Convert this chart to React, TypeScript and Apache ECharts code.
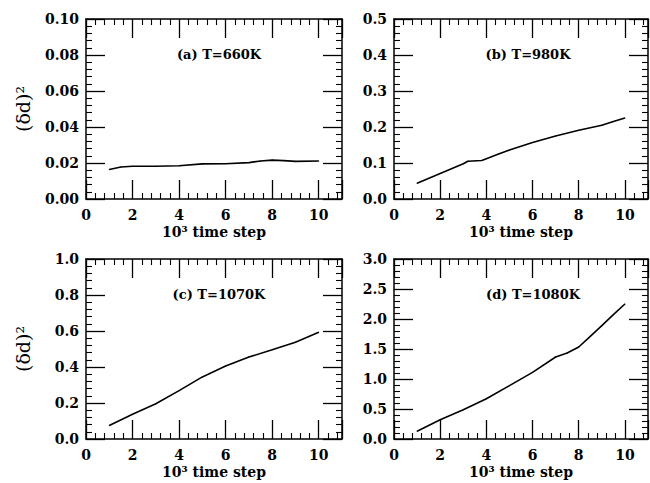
import React, { useEffect, useRef } from "react";
import * as echarts from "echarts";

const xA = [1, 1.5, 2, 3, 4, 5, 6, 7, 7.5, 8, 8.5, 9, 10];
const yA = [0.0164, 0.0178, 0.0182, 0.0182, 0.0185, 0.0195, 0.0196, 0.0202, 0.0211, 0.0216, 0.0213, 0.0209, 0.0211];

const xB = [1, 2, 3, 3.2, 3.8, 4, 4.5, 5, 6, 7, 8, 9, 9.5, 10];
const yB = [0.0436, 0.071, 0.098, 0.105, 0.107, 0.112, 0.124, 0.136, 0.157, 0.175, 0.191, 0.205, 0.215, 0.225];

const xC = [1, 2, 3, 4, 5, 6, 7, 8, 9, 10];
const yC = [0.0745, 0.138, 0.196, 0.269, 0.345, 0.405, 0.455, 0.496, 0.538, 0.593];

const xD = [1, 2, 3, 4, 5, 6, 7, 7.5, 8, 8.5, 9, 9.5, 10];
const yD = [0.128, 0.322, 0.489, 0.672, 0.889, 1.111, 1.367, 1.433, 1.533, 1.711, 1.889, 2.072, 2.25];

const panelTitles = ["(a) T=660K", "(b) T=980K", "(c) T=1070K", "(d) T=1080K"];
const yMax = [0.1, 0.5, 1.0, 3.0];
const yInterval = [0.02, 0.1, 0.2, 0.5];
const yDecimals = [2, 1, 1, 1];
const xMax = 11;
const xMajor = 2;
const xAxisName = "10³ time step";
const yAxisName = "(δd)²";

const FONT = "DejaVu Serif";

export default function App() {
  const ref = useRef<HTMLDivElement>(null);
  useEffect(() => {
    if (!ref.current) return;
    const chart = echarts.init(ref.current, null, { renderer: "svg" });

    const grids = [
      { left: 86, top: 19, width: 256, height: 180 },
      { left: 394, top: 19, width: 254, height: 180 },
      { left: 86, top: 259, width: 256, height: 180 },
      { left: 394, top: 259, width: 254, height: 180 },
    ];
    const xs = [xA, xB, xC, xD];
    const ys = [yA, yB, yC, yD];
    const titlePos = [
      { left: 219, top: 48 },
      { left: 528, top: 48 },
      { left: 219, top: 288 },
      { left: 533, top: 288 },
    ];

    const black = "#000";
    const xAxes: any[] = [];
    const yAxes: any[] = [];
    const series: any[] = [];

    const lineCfg = () => ({ show: true, onZero: false, lineStyle: { color: black, width: 1.5 } });
    const tickCfg = () => ({ show: true, inside: true, length: 19, lineStyle: { color: black, width: 1.3 } });
    const minorCfg = () => ({ show: true, splitNumber: 5, length: 6, lineStyle: { color: black, width: 1.1 } });

    grids.forEach((g, i) => {
      const baseX = xAxes.length;
      const common = () => ({
        gridIndex: i,
        type: "value",
        min: 0,
        max: xMax,
        interval: xMajor,
        splitLine: { show: false },
        axisLine: lineCfg(),
        axisTick: tickCfg(),
        minorTick: minorCfg(),
        minorSplitLine: { show: false },
      });
      xAxes.push({
        ...common(),
        position: "bottom",
        axisLabel: {
          show: true,
          showMaxLabel: false,
          margin: 9,
          color: black,
          fontFamily: FONT,
          fontWeight: "bold",
          fontSize: 14,
        },
        name: xAxisName,
        nameLocation: "middle",
        nameGap: 26,
        nameTextStyle: { color: black, fontFamily: FONT, fontWeight: "bold", fontSize: 14 },
      });
      xAxes.push({
        ...common(),
        position: "top",
        axisLabel: { show: false },
      });

      const baseY = yAxes.length;
      const yCommon = () => ({
        gridIndex: i,
        type: "value",
        min: 0,
        max: yMax[i],
        interval: yInterval[i],
        splitLine: { show: false },
        axisLine: lineCfg(),
        axisTick: tickCfg(),
        minorTick: minorCfg(),
        minorSplitLine: { show: false },
      });
      const dec = yDecimals[i];
      yAxes.push({
        ...yCommon(),
        position: "left",
        axisLabel: {
          show: true,
          margin: 7,
          color: black,
          fontFamily: FONT,
          fontWeight: "bold",
          fontSize: 14,
          formatter: (v: number) => v.toFixed(dec),
        },
        ...(i % 2 === 0
          ? {
              name: yAxisName,
              nameLocation: "middle",
              nameGap: 54,
              nameTextStyle: { color: black, fontFamily: FONT, fontSize: 19 },
            }
          : {}),
      });
      yAxes.push({
        ...yCommon(),
        position: "right",
        axisLabel: { show: false },
      });

      series.push({
        type: "line",
        xAxisIndex: baseX,
        yAxisIndex: baseY,
        data: xs[i].map((x, k) => [x, ys[i][k]]),
        showSymbol: true,
        symbol: "circle",
        symbolSize: 1,
        itemStyle: { color: black, borderWidth: 0 },
        lineStyle: { color: black, width: 1.6 },
      });
    });

    const title = panelTitles.map((t, i) => ({
      text: t,
      left: titlePos[i].left,
      top: titlePos[i].top,
      textAlign: "center",
      padding: 0,
      textStyle: { color: black, fontFamily: FONT, fontWeight: "bold", fontSize: 13 },
    }));

    chart.setOption({
      animation: false,
      title,
      grid: grids,
      xAxis: xAxes,
      yAxis: yAxes,
      series,
    });
    return () => chart.dispose();
  }, []);
  return (
    <div
      ref={ref}
      style={{ position: "absolute", left: 0, top: 0, width: 650, height: 483 }}
    />
  );
}
